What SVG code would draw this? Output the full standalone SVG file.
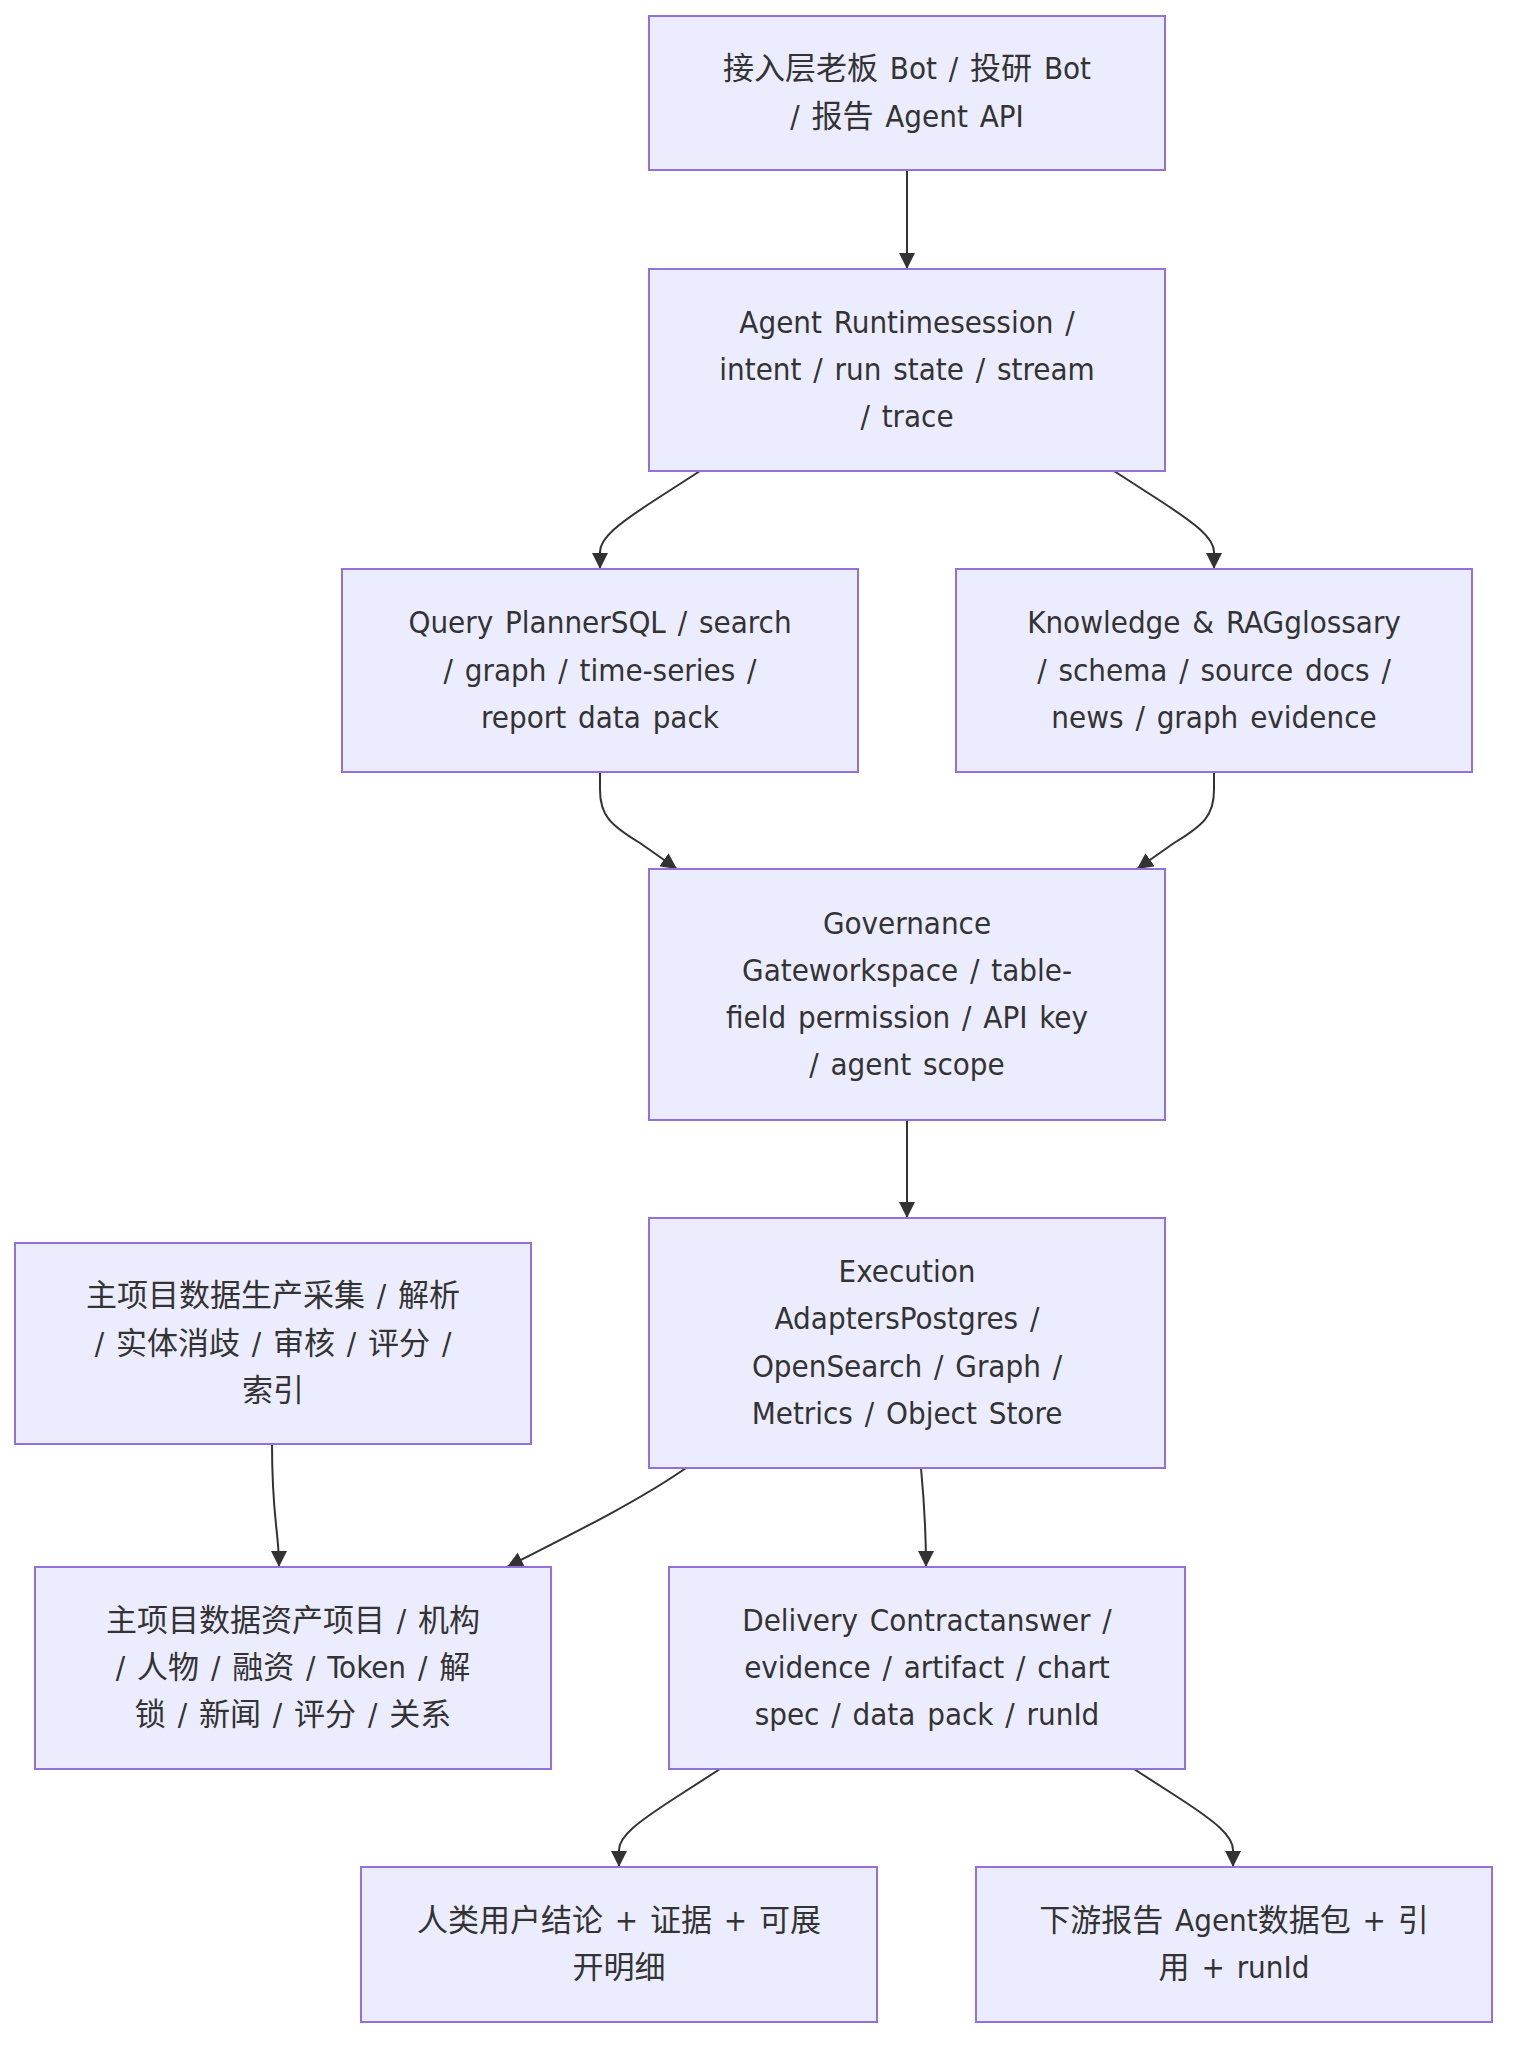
<svg xmlns="http://www.w3.org/2000/svg" width="1522" height="2060" viewBox="0 0 1522 2060">
<style>
.node rect{fill:#ECECFF;stroke:#9370DB;stroke-width:2}
.node text{font-family:"DejaVu Sans Condensed","DejaVu Sans","Noto Sans CJK SC",sans-serif;font-stretch:condensed;font-size:31px;word-spacing:3px;fill:#333;text-anchor:middle}
.edges path{fill:none;stroke:#333;stroke-width:2;marker-end:url(#arrow)}
</style>
<defs>
<marker id="arrow" viewBox="0 0 10 10" refX="10" refY="5" markerUnits="userSpaceOnUse" markerWidth="16" markerHeight="16" orient="auto">
<path d="M0,0 L10,5 L0,10 z" fill="#333" stroke="none"/>
</marker>
</defs>
<rect width="1522" height="2060" fill="#fff"/>
<g class="edges" id="connectors">
<path d="M907,170 L907,269"/>
<path d="M700,471 L655,500 C618,524 600,538 600,552 L600,569"/>
<path d="M1114,471 L1159,500 C1196,524 1214,538 1214,552 L1214,569"/>
<path d="M600,772 L600,790 C600,815 610,825 640,843 L677,869"/>
<path d="M1214,772 L1214,790 C1214,815 1204,825 1174,843 L1137,869"/>
<path d="M907,1120 L907,1218"/>
<path d="M686,1468 C640,1500 580,1530 507,1567"/>
<path d="M921,1468 C924,1500 926,1530 926,1567"/>
<path d="M272,1444 C272,1520 279,1530 279,1567"/>
<path d="M720,1769 L675,1798 C638,1822 619,1836 619,1850 L619,1867"/>
<path d="M1134,1769 L1179,1798 C1216,1822 1233,1836 1233,1850 L1233,1867"/>
</g>
<g class="node" id="access">
<rect x="649" y="16" width="516" height="154"/>
<text x="907" y="79.4">接入层老板 Bot / 投研 Bot</text>
<text x="907" y="126.7">/ 报告 Agent API</text>
</g>
<g class="node" id="runtime">
<rect x="649" y="269" width="516" height="202"/>
<text x="907" y="332.7">Agent Runtimesession /</text>
<text x="907" y="380">intent / run state / stream</text>
<text x="907" y="427.3">/ trace</text>
</g>
<g class="node" id="planner">
<rect x="342" y="569" width="516" height="203"/>
<text x="600" y="633.2">Query PlannerSQL / search</text>
<text x="600" y="680.5">/ graph / time-series /</text>
<text x="600" y="727.8">report data pack</text>
</g>
<g class="node" id="knowledge">
<rect x="956" y="569" width="516" height="203"/>
<text x="1214" y="633.2">Knowledge &amp; RAGglossary</text>
<text x="1214" y="680.5">/ schema / source docs /</text>
<text x="1214" y="727.8">news / graph evidence</text>
</g>
<g class="node" id="governance">
<rect x="649" y="869" width="516" height="251"/>
<text x="907" y="933.5">Governance</text>
<text x="907" y="980.8">Gateworkspace / table-</text>
<text x="907" y="1028.1">field permission / API key</text>
<text x="907" y="1075.4">/ agent scope</text>
</g>
<g class="node" id="execution">
<rect x="649" y="1218" width="516" height="250"/>
<text x="907" y="1282">Execution</text>
<text x="907" y="1329.3">AdaptersPostgres /</text>
<text x="907" y="1376.6">OpenSearch / Graph /</text>
<text x="907" y="1423.9">Metrics / Object Store</text>
</g>
<g class="node" id="production">
<rect x="15" y="1243" width="516" height="201"/>
<text x="273" y="1306.2">主项目数据生产采集 / 解析</text>
<text x="273" y="1353.5">/ 实体消歧 / 审核 / 评分 /</text>
<text x="273" y="1400.8">索引</text>
</g>
<g class="node" id="assets">
<rect x="35" y="1567" width="516" height="202"/>
<text x="293" y="1630.7">主项目数据资产项目 / 机构</text>
<text x="293" y="1678">/ 人物 / 融资 / Token / 解</text>
<text x="293" y="1725.3">锁 / 新闻 / 评分 / 关系</text>
</g>
<g class="node" id="delivery">
<rect x="669" y="1567" width="516" height="202"/>
<text x="927" y="1630.7">Delivery Contractanswer /</text>
<text x="927" y="1678">evidence / artifact / chart</text>
<text x="927" y="1725.3">spec / data pack / runId</text>
</g>
<g class="node" id="human">
<rect x="361" y="1867" width="516" height="155"/>
<text x="619" y="1930.9">人类用户结论 + 证据 + 可展</text>
<text x="619" y="1978.2">开明细</text>
</g>
<g class="node" id="downstream">
<rect x="976" y="1867" width="516" height="155"/>
<text x="1234" y="1930.9">下游报告 Agent数据包 + 引</text>
<text x="1234" y="1978.2">用 + runId</text>
</g>
</svg>
